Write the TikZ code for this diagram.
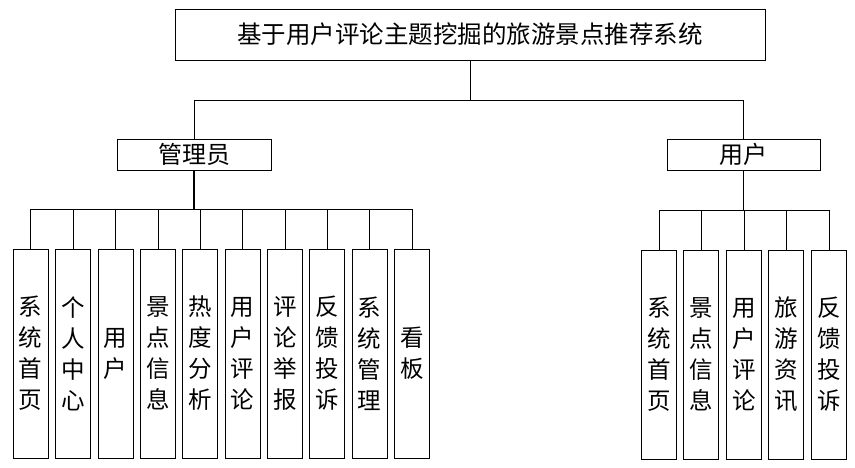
\documentclass[tikz,border=0pt]{standalone}
\usepackage{fontspec}
\setmainfont{Noto Sans CJK SC}
\begin{document}
\begin{tikzpicture}[x=1pt,y=-1pt,
  box/.style={draw, line width=0.8pt, inner sep=0pt, font=\fontsize{24}{24}\selectfont},
  vbox/.style={draw, line width=0.8pt, inner sep=0pt, minimum width=35pt, minimum height=209pt, align=center, font=\fontsize{23.5}{31}\selectfont},
  link/.style={line width=0.8pt}]
\useasboundingbox (0,0) rectangle (855,468);
\node[box, minimum width=590pt, minimum height=51pt, font=\fontsize{24.5}{24.5}\selectfont] (root) at (470,34.5) {基于用户评论主题挖掘的旅游景点推荐系统};
\node[box, minimum width=154pt, minimum height=31pt] (adm) at (194,154.5) {管理员};
\node[box, minimum width=153pt, minimum height=31pt] (usr) at (743.5,154.5) {用户};
\coordinate (topbus) at (470,100);
\coordinate (abus) at (194,209);
\coordinate (ubus) at (743.5,210);
% admin children
\node[vbox] (a1) at (30.5,353.5) {系\\统\\首\\页};
\node[vbox] (a2) at (73,353.5) {个\\人\\中\\心};
\node[vbox] (a3) at (115.5,353.5) {用\\户};
\node[vbox] (a4) at (158,353.5) {景\\点\\信\\息};
\node[vbox] (a5) at (200,353.5) {热\\度\\分\\析};
\node[vbox] (a6) at (242.5,353.5) {用\\户\\评\\论};
\node[vbox] (a7) at (285,353.5) {评\\论\\举\\报};
\node[vbox] (a8) at (327,353.5) {反\\馈\\投\\诉};
\node[vbox] (a9) at (369.5,353.5) {系\\统\\管\\理};
\node[vbox] (a10) at (412,353.5) {看\\板};
% user children
\node[vbox] (u1) at (659,354.5) {系\\统\\首\\页};
\node[vbox] (u2) at (701,354.5) {景\\点\\信\\息};
\node[vbox] (u3) at (744,354.5) {用\\户\\评\\论};
\node[vbox] (u4) at (786,354.5) {旅\\游\\资\\讯};
\node[vbox] (u5) at (829,354.5) {反\\馈\\投\\诉};
% connectors
\draw[link] (root.south) -- (root.south |- topbus);
\draw[link] (adm.north |- topbus) -- (usr.north |- topbus);
\draw[link] (adm.north) -- (adm.north |- topbus);
\draw[link] (usr.north) -- (usr.north |- topbus);
\draw[link, line width=1.4pt] (adm.south) -- (adm.south |- abus);
\draw[link] (a1.north |- abus) -- (a10.north |- abus);
\foreach \n in {a1,a2,a3,a4,a5,a6,a7,a8,a9,a10}
  \draw[link] (\n.north) -- (\n.north |- abus);
\draw[link] (usr.south) -- (usr.south |- ubus);
\draw[link] (u1.north |- ubus) -- (u5.north |- ubus);
\foreach \n in {u1,u2,u3,u4,u5}
  \draw[link] (\n.north) -- (\n.north |- ubus);
\end{tikzpicture}
\end{document}
